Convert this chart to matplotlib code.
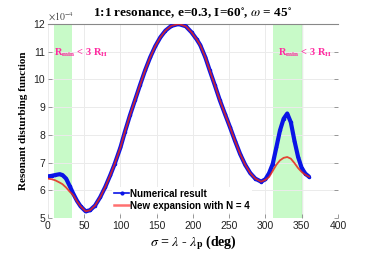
import matplotlib
matplotlib.use("Agg")
import matplotlib.pyplot as plt
from matplotlib.lines import Line2D

# ---- data ----
sigma_num = [0, 5, 10, 16, 20, 25, 30, 35, 40, 45, 52, 58, 65, 72, 79, 86, 92, 100,
             106, 113, 120, 127, 134, 141, 148, 155, 162, 170, 180, 190, 198, 205,
             210, 217, 223, 230, 237, 244, 251, 258, 265, 272, 279, 286, 294, 300,
             305, 310, 315, 320, 325, 330, 335, 340, 345, 350, 355, 360]
numerical = [6.50, 6.52, 6.55, 6.58, 6.55, 6.42, 6.15, 5.87, 5.62, 5.42, 5.24, 5.28,
             5.45, 5.75, 6.12, 6.55, 6.95, 7.55, 8.10, 8.70, 9.25, 9.80, 10.33, 10.80,
             11.20, 11.52, 11.76, 11.93, 12.00, 11.92, 11.70, 11.45, 11.24, 10.80,
             10.33, 9.80, 9.25, 8.76, 8.28, 7.78, 7.31, 6.92, 6.62, 6.42, 6.31, 6.40,
             6.62, 6.95, 7.55, 8.16, 8.58, 8.77, 8.45, 7.78, 7.20, 6.80, 6.60, 6.49]
expansion = [6.42, 6.40, 6.36, 6.28, 6.22, 6.10, 5.95, 5.82, 5.60, 5.42, 5.24, 5.28,
             5.45, 5.75, 6.12, 6.55, 6.95, 7.55, 8.10, 8.70, 9.25, 9.80, 10.33, 10.80,
             11.20, 11.52, 11.76, 11.93, 12.00, 11.92, 11.70, 11.45, 11.24, 10.80,
             10.33, 9.80, 9.25, 8.76, 8.28, 7.78, 7.31, 6.92, 6.62, 6.42, 6.31, 6.38,
             6.48, 6.70, 6.92, 7.08, 7.17, 7.20, 7.14, 6.98, 6.80, 6.66, 6.56, 6.49]
spans = [(8, 33), (310, 351)]
xticks = [0, 50, 100, 150, 200, 250, 300, 350, 400]
yticks = [5, 6, 7, 8, 9, 10, 11, 12]
labels = ['Numerical result', 'New expansion with N = 4']

plt.rcParams['font.family'] = ['Liberation Sans', 'DejaVu Sans']
plt.rcParams['mathtext.fontset'] = 'stix'

fig = plt.figure(figsize=(3.74, 2.57), dpi=100)
ax = fig.add_axes([0.1283, 0.1518, 0.7754, 0.7548])

for a, b in spans:
    ax.axvspan(a, b, color='#c8fac8', zorder=0, lw=0)
ax.axvline(spans[1][1], color='#5ad65a', lw=0.8, zorder=0.5)

ax.plot(sigma_num, numerical, color='#0a14e6', lw=3.0, marker='.', ms=3,
        solid_joinstyle='round', solid_capstyle='round', zorder=3)
ax.plot(sigma_num, expansion, color='#e8261a', lw=1.3, alpha=0.85,
        solid_joinstyle='round', zorder=4)

ax.set_xlim(0, 400)
ax.set_ylim(5, 12)
ax.set_xticks(xticks)
ax.set_yticks(yticks)
ax.grid(True, color='#ebebeb', lw=0.7, zorder=0)
ax.set_axisbelow(True)
ax.tick_params(direction='in', length=3, width=0.6, color='#888888',
               labelsize=7.5, labelcolor='#222222', pad=2,
               top=False, right=True)
for s in ['left', 'right', 'bottom']:
    ax.spines[s].set_visible(False)
ax.spines['top'].set_color('#888888')
ax.spines['top'].set_linewidth(0.8)

ax.text(0.0, 1.005, r'$\times10^{-4}$', transform=ax.transAxes, fontsize=7,
        color='#444444', ha='left', va='bottom')

ax.set_title(r'1:1 resonance, e=0.3, I=60$^{\circ}$, $\omega$ = 45$^{\circ}$',
             fontfamily='Liberation Serif', fontweight='bold', fontsize=9.5, pad=5)
ax.set_ylabel('Resonant disturbing function', fontfamily='Liberation Serif',
              fontweight='bold', fontsize=8, labelpad=4)
ax.set_xlabel(r'$\sigma$ = $\lambda$ - $\lambda_{\mathbf{p}}$ (deg)',
              fontfamily='Liberation Serif', fontweight='bold', fontsize=10, labelpad=2)

for xs in [8.7, 317.7]:
    ax.text(xs, 10.88, r'R$_{\mathbf{min}}$ < 3 R$_{\mathbf{H}}$', color='#ff2aa0',
            fontfamily='Liberation Serif', fontweight='bold', fontsize=7.5,
            ha='left', va='baseline', zorder=5)

handles = [Line2D([], [], color='#0a14e6', lw=1.2, marker='.', ms=4),
           Line2D([], [], color='#ff7070', lw=1.8)]
leg = ax.legend(handles, labels, loc='upper left', bbox_to_anchor=(0.22, 0.16),
                frameon=True, framealpha=1, edgecolor='none', fancybox=False,
                prop={'family': 'Liberation Sans', 'weight': 'bold', 'size': 7},
                handlelength=1.6, handletextpad=0.1, labelspacing=0.2,
                borderpad=0.2, borderaxespad=0)
leg.set_zorder(6)

fig.savefig('out.png', dpi=100)
